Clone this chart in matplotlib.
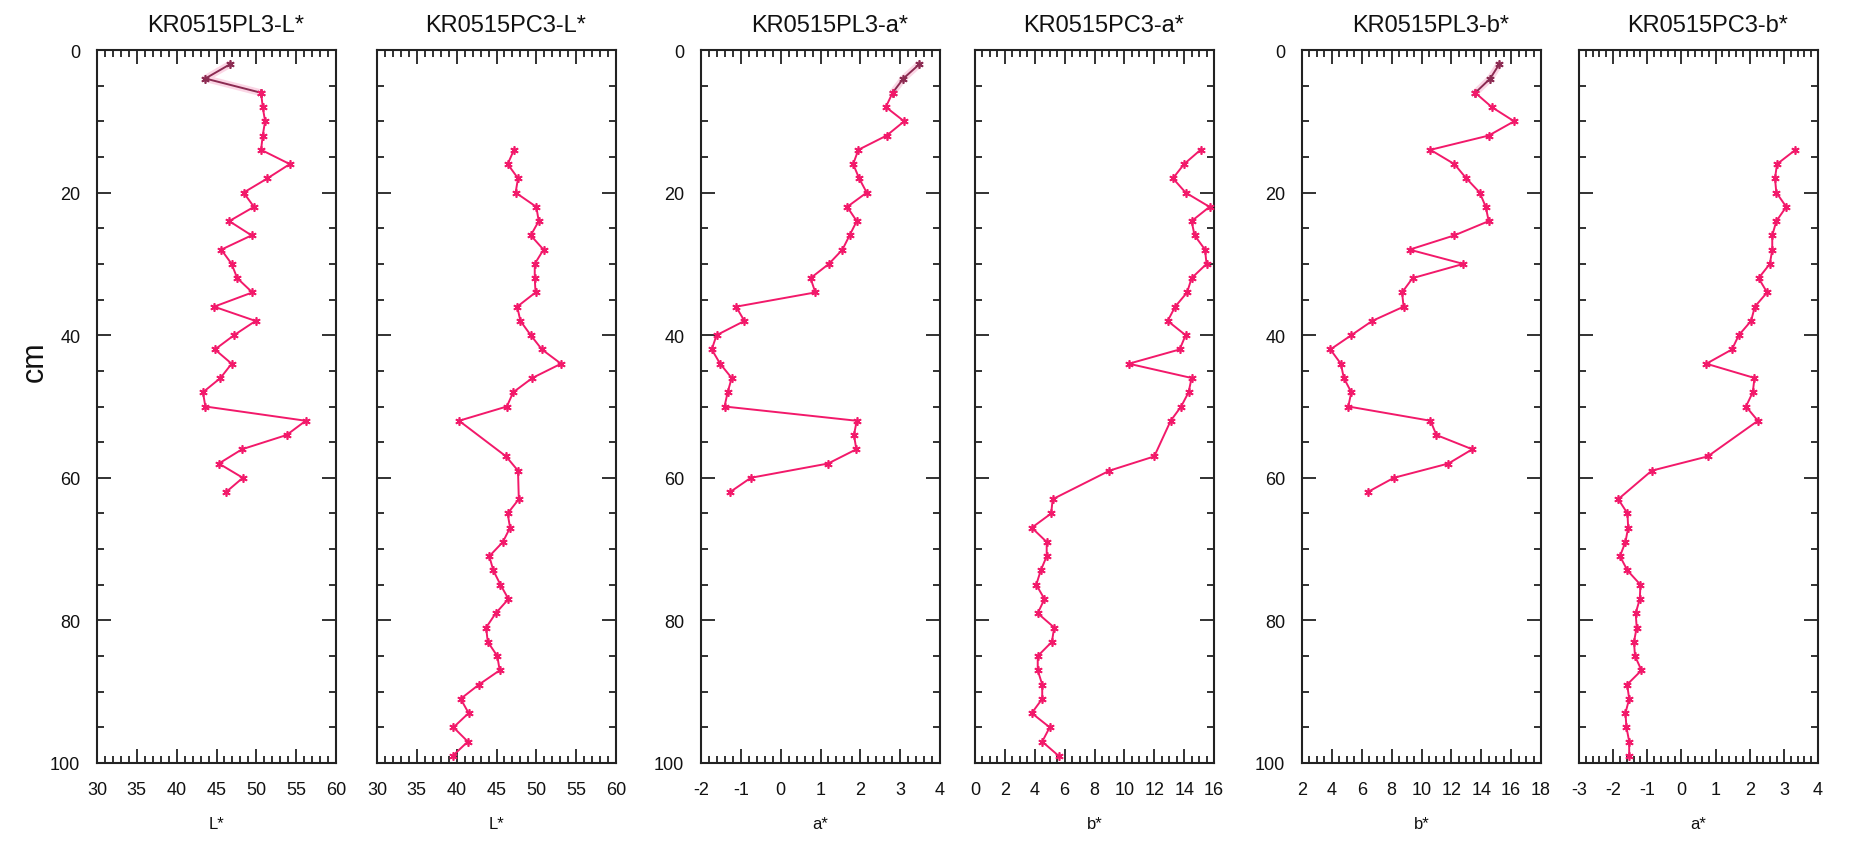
import matplotlib
matplotlib.use("Agg")
import matplotlib.pyplot as plt
from matplotlib.ticker import MultipleLocator, NullFormatter

plt.rcParams["font.family"] = ["Liberation Sans", "DejaVu Sans"]
plt.rcParams["axes.unicode_minus"] = False

# core KR0515PL3, sampled every 2 cm
pl3_depth = [2, 4, 6, 8, 10, 12, 14, 16, 18, 20, 22, 24, 26, 28, 30, 32,
             34, 36, 38, 40, 42, 44, 46, 48, 50, 52, 54, 56, 58, 60, 62]
pl3_L = [46.7, 43.6, 50.6, 50.8, 51.1, 50.8, 50.6, 54.2, 51.4, 48.4, 49.7,
         46.6, 49.4, 45.6, 46.9, 47.6, 49.5, 44.7, 49.9, 47.2, 44.8, 46.9,
         45.5, 43.3, 43.6, 56.2, 53.8, 48.2, 45.3, 48.3, 46.2]
pl3_a = [3.48, 3.08, 2.81, 2.64, 3.10, 2.66, 1.95, 1.82, 1.97, 2.16, 1.67,
         1.91, 1.73, 1.55, 1.21, 0.75, 0.87, -1.12, -0.91, -1.61, -1.73,
         -1.52, -1.23, -1.33, -1.41, 1.91, 1.84, 1.90, 1.19, -0.75, -1.27]
pl3_b = [15.2, 14.6, 13.6, 14.7, 16.2, 14.5, 10.6, 12.2, 13.0, 13.9, 14.3,
         14.5, 12.2, 9.2, 12.8, 9.4, 8.7, 8.8, 6.7, 5.3, 3.9, 4.6, 4.8, 5.3,
         5.1, 10.6, 11.0, 13.4, 11.8, 8.15, 6.4]

# core KR0515PC3
pc3_depth = [14, 16, 18, 20, 22, 24, 26, 28, 30, 32, 34, 36, 38, 40, 42, 44,
             46, 48, 50, 52, 57, 59, 63, 65, 67, 69, 71, 73, 75, 77, 79, 81,
             83, 85, 87, 89, 91, 93, 95, 97, 99]
pc3_L = [47.2, 46.4, 47.7, 47.4, 50.0, 50.3, 49.3, 50.9, 49.8, 49.8, 49.9,
         47.6, 48.0, 49.3, 50.7, 53.1, 49.5, 47.1, 46.3, 40.3, 46.2, 47.7,
         47.8, 46.4, 46.7, 45.8, 44.1, 44.6, 45.5, 46.5, 44.9, 43.7, 43.9,
         45.1, 45.4, 42.8, 40.5, 41.5, 39.6, 41.4, 39.5]
pc3_a_panel = [15.1, 14.0, 13.25, 14.1, 15.7, 14.5, 14.7, 15.4, 15.5, 14.5,
               14.2, 13.4, 12.9, 14.1, 13.7, 10.3, 14.5, 14.3, 13.8, 13.1,
               12.0, 9.0, 5.2, 5.1, 3.8, 4.8, 4.8, 4.4, 4.1, 4.65, 4.2, 5.3,
               5.15, 4.2, 4.2, 4.5, 4.5, 3.8, 5.0, 4.5, 5.6]
pc3_b_panel = [3.34, 2.80, 2.74, 2.78, 3.07, 2.78, 2.66, 2.66, 2.59, 2.26,
               2.51, 2.15, 2.04, 1.68, 1.48, 0.73, 2.14, 2.09, 1.89, 2.24,
               0.77, -0.87, -1.85, -1.58, -1.56, -1.64, -1.80, -1.58, -1.20,
               -1.22, -1.34, -1.31, -1.39, -1.36, -1.17, -1.59, -1.53, -1.64,
               -1.61, -1.53, -1.53]

titles = ["KR0515PL3-L*", "KR0515PC3-L*", "KR0515PL3-a*",
          "KR0515PC3-a*", "KR0515PL3-b*", "KR0515PC3-b*"]
xlabels = ["L*", "L*", "a*", "b*", "b*", "a*"]

W, H = 1859, 845
LINE = "#f2196a"
DARK = "#8c2b52"

panels = [
    # depth, values, xlim, major, minor, left px, show y labels, core top
    (pl3_depth, pl3_L, (30, 60), 5, 1, 97, True, True),
    (pc3_depth, pc3_L, (30, 60), 5, 1, 377, False, False),
    (pl3_depth, pl3_a, (-2, 4), 1, 0.2, 701, True, True),
    (pc3_depth, pc3_a_panel, (0, 16), 2, 0.5, 975, False, False),
    (pl3_depth, pl3_b, (2, 18), 2, 0.5, 1302, True, True),
    (pc3_depth, pc3_b_panel, (-3, 4), 1, 0.2, 1579, False, False),
]

fig = plt.figure(figsize=(W / 100, H / 100), dpi=100)

for i, (depth, vals, xlim, major, minor, left, ylab, top) in enumerate(panels):
    ax = fig.add_axes([left / W, 1 - 764 / H, 239 / W, 713 / H])
    mk = dict(marker=(6, 2, 0), markersize=6, markeredgewidth=1.2)
    if top:
        # uppermost samples drawn darker with a soft halo
        ax.plot(vals[:3], depth[:3], color="#f7a6c6", lw=5, alpha=0.45,
                solid_capstyle="round", zorder=2)
        ax.plot(vals[:3], depth[:3], color=DARK, lw=1.4, zorder=3,
                markeredgecolor=DARK, **mk)
        ax.plot(vals[2:], depth[2:], color=LINE, lw=1.4, zorder=3,
                markeredgecolor=LINE, **mk)
    else:
        ax.plot(vals, depth, color=LINE, lw=1.4, zorder=3,
                markeredgecolor=LINE, **mk)

    ax.set_xlim(*xlim)
    ax.set_ylim(100, 0)
    ax.xaxis.set_major_locator(MultipleLocator(major))
    ax.xaxis.set_minor_locator(MultipleLocator(minor))
    ax.yaxis.set_major_locator(MultipleLocator(20))
    ax.yaxis.set_minor_locator(MultipleLocator(5))
    ax.tick_params(which="both", direction="in", top=True, right=True,
                   color="#222222", width=1.3)
    ax.tick_params(which="major", length=10, labelsize=13, pad=13,
                   labelcolor="#111111")
    ax.tick_params(which="minor", length=5)
    ax.tick_params(axis="y", which="major", pad=12)
    if not ylab:
        ax.yaxis.set_major_formatter(NullFormatter())
    for sp in ax.spines.values():
        sp.set_linewidth(1.5)
        sp.set_color("#222222")

    ax.set_title(titles[i], fontsize=17, pad=14, x=0.54, color="#111111")
    ax.set_xlabel(xlabels[i], fontsize=12, labelpad=13, color="#111111")

fig.text(35 / W, 1 - 362 / H, "cm", fontsize=22, rotation=90,
         ha="center", va="center", color="#111111")

fig.savefig("out.png", dpi=100)
